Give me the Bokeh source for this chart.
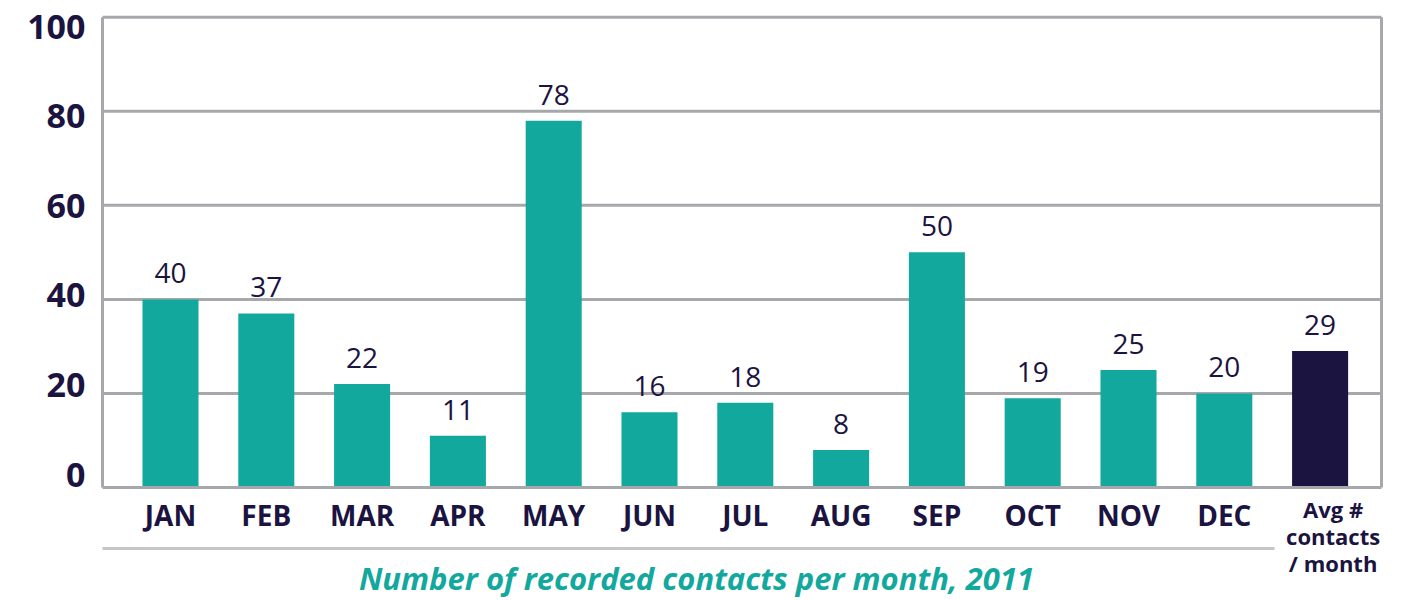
from bokeh.plotting import figure
from bokeh.models import Range1d, LinearAxis, FixedTicker
from bokeh.core.properties import value
from bokeh.embed import file_html
from bokeh.resources import INLINE

# ---- data ----
months = ["JAN", "FEB", "MAR", "APR", "MAY", "JUN", "JUL", "AUG", "SEP", "OCT", "NOV", "DEC"]
contacts = [40, 37, 22, 11, 78, 16, 18, 8, 50, 19, 25, 20]
avg_label = "Avg #\ncontacts\n/ month"
avg_value = 29
y_ticks = [0, 20, 40, 60, 80, 100]
grid_ticks = [20, 40, 60, 80, 100]
title_text = "Number of recorded contacts per month, 2011"

# ---- layout constants ----
W, H = 1414, 600
FL = 96            # frame left (px)
SX = 95.8          # px per category
X0_PX = 170        # px centre of first category
SY = 4.703         # px per unit
Y0_PX = 487        # px of value 0
BOX_L, BOX_R = 102, 1381
TEAL = "#13a89e"
NAVY = "#1b1340"
GRAY = "#a6a8ab"
FONT = "Open Sans"

x_start = -(X0_PX - FL) / SX
x_end = x_start + (W - FL) / SX
y_end = Y0_PX / SY
y_start = -(H - Y0_PX) / SY


def xd(px):
    return x_start + (px - FL) / SX


def yd(py):
    return (Y0_PX - py) / SY


p = figure(width=W, height=H, x_range=Range1d(x_start, x_end), y_range=Range1d(y_start, y_end),
           output_backend="svg", toolbar_location=None, x_axis_type=None, y_axis_type=None,
           min_border_left=FL, min_border_right=0, min_border_top=0, min_border_bottom=0,
           outline_line_color=None, background_fill_color="white", border_fill_color="white")

# gridlines
n = len(grid_ticks)
p.segment(x0=[xd(BOX_L)] * n, x1=[xd(BOX_R)] * n, y0=grid_ticks, y1=grid_ticks,
          line_color=GRAY, line_width=3)

# bars
xs = list(range(len(months)))
p.vbar(x=xs, top=contacts, bottom=0, width=0.585, fill_color=TEAL, line_color=None)
p.vbar(x=[len(months)], top=[avg_value], bottom=0, width=0.585, fill_color=NAVY, line_color=None)

# frame (left, right, bottom)
p.segment(x0=[xd(BOX_L), xd(BOX_R), xd(BOX_L)], x1=[xd(BOX_L), xd(BOX_R), xd(BOX_R)],
          y0=[0, 0, 0], y1=[y_ticks[-1], y_ticks[-1], 0], line_color=GRAY, line_width=3)

# value labels
all_x = xs + [len(months)]
all_v = contacts + [avg_value]
p.text(x=all_x, y=all_v, text=[str(v) for v in all_v], text_align="center", text_baseline="alphabetic",
       y_offset=-26, text_font=value(FONT), text_font_size="28px", text_color=NAVY)

# month labels
p.text(x=xs, y=[yd(514)] * len(xs), text=months, text_align="center", text_baseline="alphabetic",
       text_font=value(FONT), text_font_style="bold", text_font_size="28px", text_color=NAVY)

# avg label
p.text(x=[len(months)], y=[yd(493)], text=[avg_label], x_offset=13, text_align="center", text_baseline="top",
       text_line_height=0.9, text_font=value(FONT), text_font_style="bold", text_font_size="22px",
       text_color=NAVY)

# separator
p.segment(x0=[xd(BOX_L)], x1=[xd(1274)], y0=[yd(548)], y1=[yd(548)], line_color="#c6c6c6", line_width=3)

# title
p.text(x=[xd(696)], y=[yd(577)], text=[title_text], text_align="center", text_baseline="alphabetic",
       text_font=value(FONT), text_font_style="bold italic", text_font_size="31px", text_color=TEAL)

# y axis (labels sit on their own slightly tighter scale as in the original)
LAB_TOP, LAB_BOT, LAB_S = 26, 474, 4.48
p.extra_y_ranges = {"lab": Range1d(-(H - LAB_BOT) / LAB_S, 100 + LAB_TOP / LAB_S)}
ax = LinearAxis(y_range_name="lab", ticker=FixedTicker(ticks=y_ticks))
ax.axis_line_color = None
ax.major_tick_line_color = None
ax.minor_tick_line_color = None
ax.major_tick_out = 0
ax.major_tick_in = 0
ax.major_label_standoff = 11
ax.major_label_text_font = FONT
ax.major_label_text_font_style = "bold"
ax.major_label_text_font_size = "34px"
ax.major_label_text_color = NAVY
p.add_layout(ax, "left")

open("out.html", "w").write(file_html(p, INLINE))
